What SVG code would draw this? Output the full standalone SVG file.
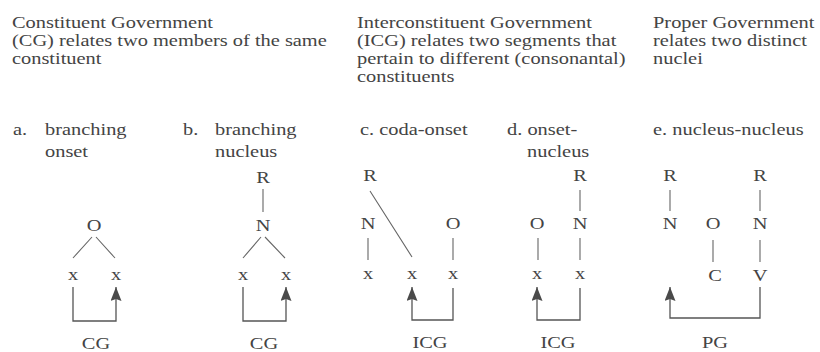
<svg xmlns="http://www.w3.org/2000/svg" width="820" height="352" viewBox="0 0 820 352">
<style>
text{font-family:"Liberation Serif","Times New Roman",serif;font-size:17px;fill:#444}
.m{text-anchor:middle}
.ln{stroke:#666;stroke-width:1.1;fill:none}
.br{stroke:#555;stroke-width:1.3;fill:none;marker-end:url(#ah)}
</style>
<defs>
<marker id="ah" viewBox="0 0 14 11" refX="14" refY="5.5" markerWidth="14" markerHeight="11" markerUnits="userSpaceOnUse" orient="auto">
<path d="M0,0 L14,5.5 L0,11 L2,5.5 z" fill="#4a4a4a"/>
</marker>
</defs>
<g id="headers">
<text transform="translate(12,28) scale(1.2,1)">Constituent Government</text>
<text transform="translate(12,46) scale(1.2,1)">(CG) relates two members of the same</text>
<text transform="translate(12,64) scale(1.2,1)">constituent</text>
<text transform="translate(357,28) scale(1.2,1)">Interconstituent Government</text>
<text transform="translate(357,46) scale(1.2,1)">(ICG) relates two segments that</text>
<text transform="translate(357,64) scale(1.2,1)">pertain to different (consonantal)</text>
<text transform="translate(357,82) scale(1.2,1)">constituents</text>
<text transform="translate(653,28) scale(1.2,1)">Proper Government</text>
<text transform="translate(653,46) scale(1.2,1)">relates two distinct</text>
<text transform="translate(653,64) scale(1.2,1)">nuclei</text>
</g>
<g id="labels">
<text transform="translate(13,135) scale(1.2,1)">a.</text>
<text transform="translate(45,135) scale(1.2,1)">branching</text>
<text transform="translate(45,157) scale(1.2,1)">onset</text>
<text transform="translate(183,135) scale(1.2,1)">b.</text>
<text transform="translate(215,135) scale(1.2,1)">branching</text>
<text transform="translate(215,157) scale(1.2,1)">nucleus</text>
<text transform="translate(360,135) scale(1.2,1)">c. coda-onset</text>
<text transform="translate(507,135) scale(1.2,1)">d. onset-</text>
<text transform="translate(527,157) scale(1.2,1)">nucleus</text>
<text transform="translate(653,135) scale(1.2,1)">e. nucleus-nucleus</text>
</g>
<g id="connectors">
<path class="ln" d="M92,237 L73,258 M96,237 L115,258"/>
<path class="br" d="M73,287 V321 H116 V287"/>
<path class="ln" d="M263,189 V212 M261,237 L243,258 M265,237 L285,258"/>
<path class="br" d="M243,287 V321 H286 V287"/>
<path class="ln" d="M368,238 V260 M370,191 L412,257 M453,238 V260"/>
<path class="br" d="M453,288 V320 H412 V287"/>
<path class="ln" d="M580,190 V211 M538,238 V260 M580,238 V260"/>
<path class="br" d="M580,288 V320 H537 V287"/>
<path class="ln" d="M670,190 V211 M713,240 V262 M760,190 V211 M760,240 V262"/>
<path class="br" d="M760,287 V318 H670 V287"/>
</g>
<g id="tree-a">
<g id="a-O"><text class="m" transform="translate(94,231) scale(1.2,1)">O</text></g>
<g id="a-x1"><text class="m" transform="translate(73,280) scale(1.2,1)">x</text></g>
<g id="a-x2"><text class="m" transform="translate(116,280) scale(1.2,1)">x</text></g>
<g id="a-CG"><text class="m" transform="translate(96,349) scale(1.2,1)">CG</text></g>
</g>
<g id="tree-b">
<g id="b-R"><text class="m" transform="translate(263,183) scale(1.2,1)">R</text></g>
<g id="b-N"><text class="m" transform="translate(263,231) scale(1.2,1)">N</text></g>
<g id="b-x1"><text class="m" transform="translate(243,280) scale(1.2,1)">x</text></g>
<g id="b-x2"><text class="m" transform="translate(286,280) scale(1.2,1)">x</text></g>
<g id="b-CG"><text class="m" transform="translate(264,349) scale(1.2,1)">CG</text></g>
</g>
<g id="tree-c">
<g id="c-R"><text class="m" transform="translate(370,181) scale(1.2,1)">R</text></g>
<g id="c-N"><text class="m" transform="translate(368,229) scale(1.2,1)">N</text></g>
<g id="c-O"><text class="m" transform="translate(453,229) scale(1.2,1)">O</text></g>
<g id="c-x1"><text class="m" transform="translate(368,279) scale(1.2,1)">x</text></g>
<g id="c-x2"><text class="m" transform="translate(412,279) scale(1.2,1)">x</text></g>
<g id="c-x3"><text class="m" transform="translate(453,279) scale(1.2,1)">x</text></g>
<g id="c-ICG"><text class="m" transform="translate(430,348) scale(1.2,1)">ICG</text></g>
</g>
<g id="tree-d">
<g id="d-R"><text class="m" transform="translate(580,181) scale(1.2,1)">R</text></g>
<g id="d-O"><text class="m" transform="translate(537,229) scale(1.2,1)">O</text></g>
<g id="d-N"><text class="m" transform="translate(580,229) scale(1.2,1)">N</text></g>
<g id="d-x1"><text class="m" transform="translate(537,279) scale(1.2,1)">x</text></g>
<g id="d-x2"><text class="m" transform="translate(580,279) scale(1.2,1)">x</text></g>
<g id="d-ICG"><text class="m" transform="translate(558,348) scale(1.2,1)">ICG</text></g>
</g>
<g id="tree-e">
<g id="e-R1"><text class="m" transform="translate(670,181) scale(1.2,1)">R</text></g>
<g id="e-N1"><text class="m" transform="translate(670,229) scale(1.2,1)">N</text></g>
<g id="e-O"><text class="m" transform="translate(713,229) scale(1.2,1)">O</text></g>
<g id="e-C"><text class="m" transform="translate(715,281) scale(1.2,1)">C</text></g>
<g id="e-R2"><text class="m" transform="translate(760,181) scale(1.2,1)">R</text></g>
<g id="e-N2"><text class="m" transform="translate(760,229) scale(1.2,1)">N</text></g>
<g id="e-V"><text class="m" transform="translate(760,281) scale(1.2,1)">V</text></g>
<g id="e-PG"><text class="m" transform="translate(715,348) scale(1.2,1)">PG</text></g>
</g>
</svg>
